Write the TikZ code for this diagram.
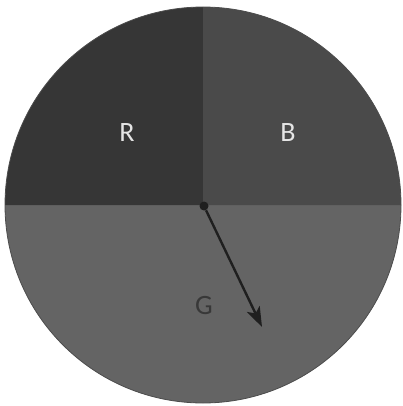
\documentclass[tikz,border=0pt]{standalone}
\usepackage{fontspec}
\setsansfont{Carlito}
\usepackage{tikz}
\usetikzlibrary{arrows.meta}
\definecolor{quadR}{HTML}{363636}
\definecolor{quadB}{HTML}{4A4A4A}
\definecolor{halfG}{HTML}{646464}
\begin{document}
\begin{tikzpicture}[x=1pt,y=-1pt,font=\sffamily\fontsize{28}{28}\selectfont,
      lab/.style={inner sep=0pt,text=white!90!black},
      arr/.style={-{Stealth[length=20pt,width=14pt,inset=5pt]},line width=2.4pt,black!88}]
    \useasboundingbox (0,0) rectangle (402,406);
    \def\r{198}
    % circle split into R, B and G
    \fill[halfG] (5,205) arc[start angle=180,end angle=360,x radius=\r,y radius=-\r] -- cycle;
    \fill[quadR] (203,205) -- (5,205) arc[start angle=180,end angle=90,x radius=\r,y radius=-\r] -- cycle;
    \fill[quadB] (203,205) -- (203,7) arc[start angle=90,end angle=0,x radius=\r,y radius=-\r] -- cycle;
    \draw[black!70,line width=0.8pt] (203,205) circle[radius=\r];
    \node[circle,fill=black!88,inner sep=0pt,minimum size=9pt] (o) at (204,206) {};
    \node[lab] (R) at (127,133) {R};
    \node[lab] (B) at (288,133) {B};
    \node[lab,text=black!78] (G) at (204,306) {G};
    \coordinate (tip) at (262,327);
    \draw[arr] (o) -- (tip);
  \end{tikzpicture}
\end{document}
